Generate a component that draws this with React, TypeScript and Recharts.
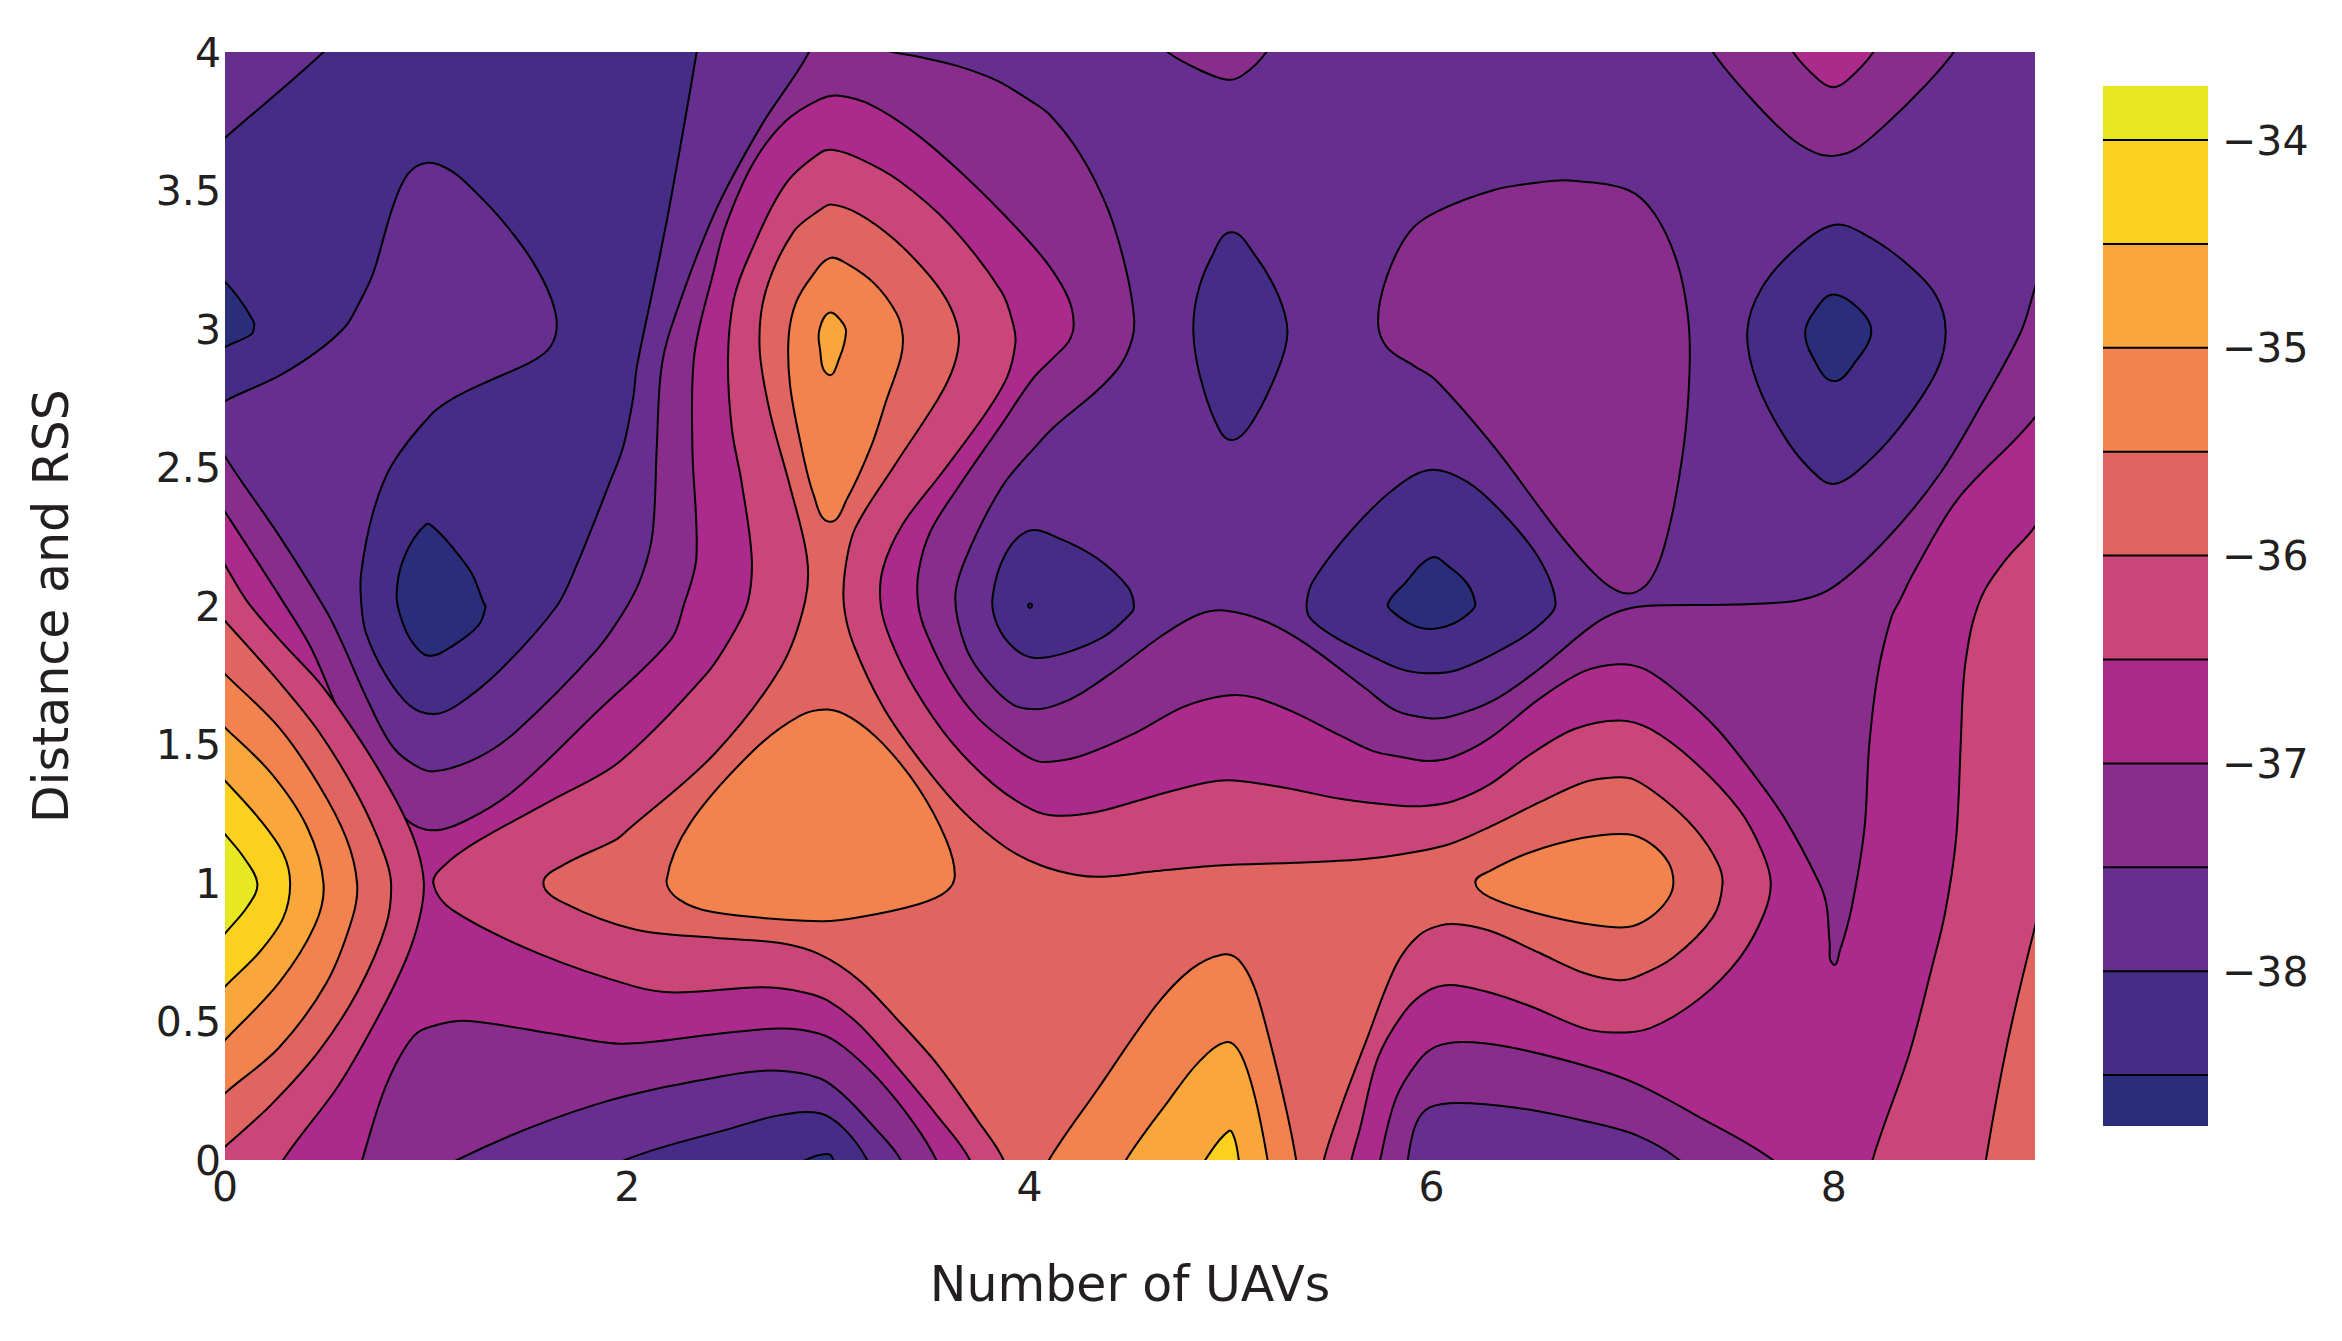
import { ComposedChart, Scatter, XAxis, YAxis, Label, ReferenceArea, ReferenceLine } from "recharts";

type Pair = [number, number];

// band colours, lowest level first
const bandColors = ["#2a2d7a", "#452d87", "#662f8f", "#892d8c", "#ac2a8b", "#ca4678", "#e0645f", "#f2834f", "#f9a73a", "#fbd01f", "#e8e822"];
const levels = [-38.5, -38, -37.5, -37, -36.5, -36, -35.5, -35, -34.5, -34];
const barBottom = -38.745;
const barTop = -33.74;
const barTicks = [-38, -37, -36, -35, -34];
const xTicks = [0, 2, 4, 6, 8];
const yTicks = [0, 0.5, 1, 1.5, 2, 2.5, 3, 3.5, 4];

// contour outlines, in data units
const background: Pair[] = [[-1, -1], [10, -1], [10, 5], [-1, 5]];

const lowTopLeft: Pair[] = [[-0.2, 2.65], [-0.2, 3.56], [0, 3.69], [0.49, 4], [0.75, 4.2], [2.38, 4.2], [2.345, 4], [2.21, 3.442], [2.137, 3.175], [2.049, 2.868], [2.029, 2.748], [1.98, 2.575], [1.91, 2.44], [1.75, 2.15], [1.65, 2.0], [1.37, 1.77], [1.15, 1.64], [1.035, 1.61], [0.92, 1.64], [0.8, 1.75], [0.7, 1.905], [0.677, 2.015], [0.677, 2.12], [0.735, 2.335], [0.83, 2.51], [1.03, 2.695], [1.147, 2.755], [1.32, 2.815], [1.52, 2.88], [1.617, 2.935], [1.65, 3.015], [1.617, 3.12], [1.52, 3.255], [1.38, 3.39], [1.245, 3.495], [1.127, 3.57], [1.01, 3.6], [0.91, 3.56], [0.834, 3.44], [0.736, 3.2], [0.657, 3.08], [0.6, 3.01], [0.46, 2.92], [0.266, 2.83], [0, 2.74]];
const lowestEdge: Pair[] = [[-0.2, 3.3], [0, 3.17], [0.07, 3.11], [0.14, 3.03], [0.145, 3.01], [0.13, 2.98], [0, 2.935], [-0.2, 2.85]];
const lowestOne: Pair[] = [[1, 2.295], [0.89, 2.175], [0.853, 2.04], [0.88, 1.946], [0.937, 1.864], [1.016, 1.82], [1.134, 1.857], [1.26, 1.93], [1.295, 1.995], [1.284, 2.015], [1.225, 2.12], [1.127, 2.215], [1.05, 2.275]];
const lowFive: Pair[] = [[5.001, 3.349], [4.903, 3.256], [4.834, 3.122], [4.815, 2.989], [4.844, 2.842], [4.923, 2.668], [5.001, 2.599], [5.1, 2.655], [5.237, 2.855], [5.283, 2.989], [5.237, 3.122], [5.119, 3.269]];
const lowEight: Pair[] = [[8.004, 3.376], [7.82, 3.296], [7.642, 3.149], [7.569, 2.989], [7.62, 2.802], [7.775, 2.588], [7.93, 2.461], [8.004, 2.441], [8.108, 2.481], [8.308, 2.628], [8.507, 2.842], [8.556, 2.989], [8.507, 3.122], [8.352, 3.242], [8.152, 3.342]];
const lowestEight: Pair[] = [[7.997, 3.125], [7.908, 3.069], [7.857, 2.989], [7.897, 2.895], [7.997, 2.812], [8.108, 2.882], [8.186, 2.989], [8.13, 3.069]];
const lowFour: Pair[] = [[3.999, 2.272], [3.881, 2.188], [3.816, 2.028], [3.841, 1.93], [3.92, 1.85], [4.018, 1.813], [4.176, 1.83], [4.372, 1.89], [4.5, 1.97], [4.52, 2.0], [4.49, 2.068], [4.333, 2.174], [4.136, 2.248]];
const lowestDot: Pair[] = [[4.003, 2.009], [3.993, 2.001], [4.003, 1.993], [4.013, 2.001]];
const lowSix: Pair[] = [[5.999, 2.492], [5.822, 2.428], [5.611, 2.281], [5.414, 2.095], [5.379, 2.014], [5.395, 1.957], [5.513, 1.89], [5.69, 1.823], [5.843, 1.773], [5.977, 1.757], [6.132, 1.77], [6.399, 1.863], [6.554, 1.943], [6.616, 2.012], [6.532, 2.174], [6.354, 2.335], [6.177, 2.448]];
const lowestSix: Pair[] = [[5.999, 2.175], [5.866, 2.081], [5.782, 2.008], [5.81, 1.977], [5.91, 1.93], [5.999, 1.917], [6.11, 1.937], [6.199, 1.983], [6.217, 2.01], [6.177, 2.081], [6.088, 2.141]];

const midMain: Pair[] = [[2.904, 4], [2.668, 3.736], [2.432, 3.415], [2.216, 3], [2.167, 2.842], [2.147, 2.575], [2.127, 2.268], [2.078, 2.12], [2.0, 2.0], [1.842, 1.836], [1.449, 1.548], [1.252, 1.451], [1.036, 1.403], [0.918, 1.437], [0.82, 1.506], [0.702, 1.671], [0.584, 1.864], [0.505, 1.98], [0.269, 2.254], [0, 2.54], [-0.2, 2.8], [-0.6, 2.4], [-0.6, -0.6], [9.6, -0.6], [9.6, 3.0], [9.2, 3.6], [9, 3.149], [8.93, 2.99], [8.75, 2.748], [8.53, 2.48], [8.26, 2.24], [7.997, 2.068], [7.82, 2.02], [7.5, 2.005], [7.065, 2.0], [6.93, 1.98], [6.8, 1.93], [6.53, 1.77], [6.31, 1.66], [6.09, 1.6], [5.977, 1.596], [5.82, 1.623], [5.67, 1.703], [5.375, 1.863], [5.178, 1.943], [4.98, 1.983], [4.844, 1.97], [4.667, 1.897], [4.431, 1.77], [4.254, 1.683], [4.136, 1.643], [4.038, 1.627], [3.92, 1.643], [3.782, 1.737], [3.684, 1.85], [3.631, 2.03], [3.684, 2.174], [3.861, 2.428], [4.038, 2.582], [4.136, 2.655], [4.333, 2.775], [4.451, 2.868], [4.51, 2.962], [4.52, 3.042], [4.48, 3.215], [4.392, 3.429], [4.254, 3.629], [4.097, 3.776], [3.979, 3.836], [3.841, 3.896], [3.645, 3.949], [3.448, 3.983], [3.32, 4], [3.1, 4.05], [3.0, 4.2]];
const midLobeFive: Pair[] = [[4.55, 4.1], [4.687, 4], [4.844, 3.936], [4.982, 3.9], [5.06, 3.916], [5.178, 4], [5.3, 4.17], [5, 4.4]];
const midLobeEight: Pair[] = [[7.25, 4.2], [7.398, 4], [7.575, 3.843], [7.775, 3.696], [7.908, 3.636], [7.997, 3.625], [8.108, 3.649], [8.263, 3.742], [8.441, 3.869], [8.596, 4], [8.75, 4.2], [8, 4.5]];
const midIsland: Pair[] = [[6.687, 3.536], [6.976, 3.502], [7.109, 3.415], [7.22, 3.242], [7.275, 3.042], [7.282, 2.842], [7.253, 2.575], [7.176, 2.268], [7.087, 2.094], [6.976, 2.045], [6.843, 2.094], [6.643, 2.254], [6.31, 2.575], [6.021, 2.815], [5.91, 2.868], [5.777, 2.935], [5.733, 3.028], [5.777, 3.189], [5.888, 3.349], [6.021, 3.422], [6.31, 3.502], [6.532, 3.529]];

const warmMain: Pair[] = [[-0.2, 2.56], [0, 2.34], [0.289, 2.015], [0.427, 1.85], [0.584, 1.589], [0.721, 1.396], [0.898, 1.231], [1.036, 1.19], [1.213, 1.231], [1.449, 1.341], [1.842, 1.613], [2.216, 1.878], [2.28, 2.0], [2.344, 2.175], [2.324, 2.575], [2.334, 2.908], [2.432, 3.215], [2.491, 3.376], [2.629, 3.602], [2.786, 3.749], [2.957, 3.829], [3.055, 3.842], [3.212, 3.809], [3.428, 3.709], [3.684, 3.549], [3.94, 3.362], [4.097, 3.229], [4.195, 3.108], [4.22, 3.015], [4.195, 2.955], [4.117, 2.895], [4.018, 2.822], [3.861, 2.655], [3.645, 2.428], [3.507, 2.268], [3.448, 2.121], [3.448, 2.0], [3.487, 1.903], [3.605, 1.73], [3.743, 1.596], [3.92, 1.49], [4.038, 1.44], [4.136, 1.44], [4.274, 1.463], [4.53, 1.543], [4.766, 1.636], [4.982, 1.677], [5.119, 1.67], [5.316, 1.616], [5.552, 1.53], [5.709, 1.476], [5.844, 1.456], [5.977, 1.44], [6.11, 1.456], [6.288, 1.523], [6.532, 1.663], [6.754, 1.763], [6.931, 1.79], [7.065, 1.77], [7.242, 1.677], [7.42, 1.556], [7.597, 1.396], [7.753, 1.236], [7.93, 0.996], [7.964, 0.916], [7.979, 0.783], [7.997, 0.706], [8.03, 0.756], [8.086, 0.903], [8.152, 1.196], [8.175, 1.49], [8.219, 1.757], [8.285, 1.957], [8.33, 2.023], [8.397, 2.121], [8.618, 2.388], [9, 2.682], [9.2, 2.94], [9.6, 2.9], [9.6, -0.6], [-0.6, -0.6], [-0.6, 2.2]];
const warmLobeEight: Pair[] = [[7.7, 4.15], [7.797, 4], [7.93, 3.896], [7.997, 3.873], [8.064, 3.896], [8.197, 4], [8.3, 4.15], [8, 4.4]];

const coolBottomThree: Pair[] = [[0.6, -0.2], [0.682, 0], [0.8, 0.268], [0.938, 0.447], [1.056, 0.488], [1.213, 0.502], [1.646, 0.454], [1.98, 0.42], [2.432, 0.454], [2.76, 0.475], [2.957, 0.456], [3.075, 0.409], [3.252, 0.289], [3.43, 0.128], [3.537, 0], [3.65, -0.2]];
const coolerBottomThree: Pair[] = [[1, -0.1], [1.154, 0], [1.842, 0.2], [2.53, 0.31], [2.76, 0.322], [2.957, 0.295], [3.075, 0.235], [3.232, 0.115], [3.36, 0], [3.45, -0.2]];
const coldBottomThree: Pair[] = [[1.8, -0.1], [1.99, 0], [2.53, 0.117], [2.76, 0.162], [2.957, 0.169], [3.075, 0.115], [3.193, 0], [3.3, -0.2]];
const coldestBottomThree: Pair[] = [[2.8, -0.05], [2.888, 0], [2.996, 0.022], [3.025, 0], [3.05, -0.1]];
const coolBottomSix: Pair[] = [[5.7, -0.2], [5.744, 0], [5.822, 0.222], [5.933, 0.356], [6.021, 0.409], [6.155, 0.426], [6.377, 0.409], [6.754, 0.342], [7.02, 0.275], [7.331, 0.155], [7.697, 0], [7.9, -0.15]];
const coolerBottomSix: Pair[] = [[5.85, -0.2], [5.881, 0], [5.921, 0.129], [5.988, 0.189], [6.132, 0.206], [6.421, 0.189], [6.754, 0.142], [7.02, 0.089], [7.231, 0], [7.35, -0.1]];

const pinkLeft: Pair[] = [[-0.15, 2.33], [0, 2.148], [0.112, 2.015], [0.289, 1.864], [0.466, 1.726], [0.604, 1.589], [0.741, 1.437], [0.879, 1.259], [0.957, 1.121], [0.989, 0.997], [0.967, 0.873], [0.899, 0.722], [0.761, 0.516], [0.564, 0.268], [0.289, 0], [0.1, -0.25], [-0.5, -0.25], [-0.5, 2.4]];
const pinkCentre: Pair[] = [[1.036, 1], [1.095, 1.066], [1.252, 1.149], [1.646, 1.307], [1.96, 1.437], [2.393, 1.754], [2.53, 1.905], [2.6, 2.015], [2.619, 2.175], [2.57, 2.441], [2.52, 2.641], [2.501, 2.895], [2.53, 3.108], [2.609, 3.269], [2.786, 3.522], [2.959, 3.636], [3.025, 3.646], [3.153, 3.616], [3.35, 3.536], [3.605, 3.375], [3.861, 3.135], [3.92, 3.015], [3.93, 2.948], [3.89, 2.828], [3.782, 2.695], [3.566, 2.482], [3.37, 2.295], [3.271, 2.134], [3.261, 2.0], [3.31, 1.877], [3.428, 1.703], [3.605, 1.516], [3.822, 1.356], [4.018, 1.263], [4.136, 1.243], [4.333, 1.256], [4.628, 1.316], [4.883, 1.363], [5.021, 1.37], [5.277, 1.343], [5.552, 1.303], [5.843, 1.279], [5.977, 1.279], [6.11, 1.296], [6.288, 1.356], [6.488, 1.463], [6.71, 1.556], [6.931, 1.587], [7.087, 1.556], [7.309, 1.436], [7.531, 1.263], [7.642, 1.116], [7.686, 1.003], [7.653, 0.889], [7.531, 0.729], [7.331, 0.582], [7.087, 0.476], [6.909, 0.46], [6.754, 0.476], [6.488, 0.556], [6.266, 0.609], [6.088, 0.632], [5.977, 0.609], [5.866, 0.536], [5.733, 0.369], [5.644, 0.115], [5.601, 0], [5.55, -0.2], [3.8, -0.2], [3.704, 0], [3.547, 0.155], [3.35, 0.329], [3.153, 0.489], [2.996, 0.576], [2.88, 0.605], [2.76, 0.62], [2.629, 0.623], [2.235, 0.605], [2.039, 0.626], [1.567, 0.743], [1.134, 0.901]];
const pinkRight: Pair[] = [[9.2, 2.55], [9, 2.288], [8.863, 2.175], [8.752, 2.06], [8.69, 1.94], [8.655, 1.8], [8.641, 1.69], [8.63, 1.49], [8.607, 1.156], [8.552, 0.889], [8.485, 0.689], [8.374, 0.382], [8.192, 0], [8.1, -0.3], [9.6, -0.5], [9.6, 2.5]];

const coralLeft: Pair[] = [[-0.2, 2.11], [0, 1.946], [0.269, 1.726], [0.466, 1.547], [0.662, 1.314], [0.79, 1.107], [0.826, 0.997], [0.8, 0.846], [0.662, 0.612], [0.466, 0.392], [0.23, 0.2], [0, 0.048], [-0.2, -0.084], [-0.5, -0.1], [-0.5, 2.2]];
const coralCentre: Pair[] = [[1.583, 1], [1.685, 1.066], [1.94, 1.155], [2.0, 1.19], [2.432, 1.465], [2.766, 1.781], [2.884, 2.015], [2.894, 2.175], [2.806, 2.441], [2.707, 2.708], [2.658, 2.935], [2.688, 3.135], [2.825, 3.349], [2.957, 3.429], [3.016, 3.449], [3.153, 3.415], [3.33, 3.322], [3.507, 3.189], [3.605, 3.082], [3.649, 2.975], [3.625, 2.868], [3.546, 2.748], [3.33, 2.508], [3.134, 2.281], [3.084, 2.134], [3.078, 2.0], [3.124, 1.863], [3.271, 1.637], [3.448, 1.45], [3.664, 1.263], [3.881, 1.129], [4.058, 1.063], [4.235, 1.029], [4.372, 1.023], [4.628, 1.043], [4.942, 1.063], [5.316, 1.073], [5.644, 1.085], [5.844, 1.103], [6.088, 1.14], [6.31, 1.21], [6.532, 1.29], [6.754, 1.363], [6.887, 1.38], [6.998, 1.376], [7.153, 1.303], [7.309, 1.196], [7.42, 1.076], [7.446, 0.996], [7.398, 0.876], [7.198, 0.729], [7.02, 0.662], [6.931, 0.649], [6.754, 0.676], [6.532, 0.749], [6.31, 0.822], [6.155, 0.849], [6.044, 0.847], [5.933, 0.809], [5.822, 0.702], [5.67, 0.422], [5.552, 0.195], [5.464, 0], [5.42, -0.2], [3.95, -0.2], [3.871, 0], [3.743, 0.142], [3.546, 0.342], [3.35, 0.502], [3.153, 0.649], [2.957, 0.742], [2.76, 0.783], [2.432, 0.802], [2.039, 0.832], [1.685, 0.928]];
const coralRight: Pair[] = [[9.1, 1.1], [9, 0.842], [8.863, 0.422], [8.756, 0], [8.7, -0.3], [9.6, -0.3], [9.6, 1.2]];

const orangeLeft: Pair[] = [[-0.2, 1.9], [0, 1.754], [0.269, 1.561], [0.466, 1.355], [0.603, 1.162], [0.657, 0.997], [0.633, 0.873], [0.505, 0.64], [0.269, 0.406], [0, 0.241], [-0.2, 0.1], [-0.5, 0.1], [-0.5, 1.9]];
const orangeThreeHigh: Pair[] = [[3.006, 3.256], [2.917, 3.189], [2.839, 3.095], [2.803, 2.975], [2.809, 2.802], [2.858, 2.602], [2.927, 2.401], [3.006, 2.304], [3.094, 2.388], [3.212, 2.575], [3.291, 2.748], [3.36, 2.895], [3.37, 2.975], [3.34, 3.055], [3.232, 3.162], [3.094, 3.235]];
const orangeThreeLow: Pair[] = [[2.996, 1.626], [2.858, 1.603], [2.629, 1.479], [2.314, 1.217], [2.196, 1.011], [2.255, 0.942], [2.432, 0.894], [2.959, 0.862], [3.153, 0.876], [3.448, 0.923], [3.586, 0.969], [3.629, 1.029], [3.586, 1.156], [3.448, 1.343], [3.271, 1.503], [3.114, 1.596]];
const orangeSeven: Pair[] = [[6.976, 1.176], [6.754, 1.163], [6.488, 1.11], [6.288, 1.043], [6.217, 1.003], [6.288, 0.949], [6.532, 0.889], [6.798, 0.849], [6.976, 0.841], [7.087, 0.876], [7.176, 0.943], [7.202, 1.003], [7.176, 1.076], [7.087, 1.143]];
const orangeFive: Pair[] = [[3.98, -0.18], [4.097, 0], [4.333, 0.249], [4.628, 0.556], [4.805, 0.689], [4.962, 0.742], [5.041, 0.722], [5.119, 0.622], [5.198, 0.422], [5.277, 0.182], [5.326, 0], [5.36, -0.2]];

const amberLeft: Pair[] = [[-0.2, 1.7], [0, 1.561], [0.23, 1.396], [0.407, 1.204], [0.49, 0.997], [0.446, 0.846], [0.269, 0.64], [0, 0.433], [-0.2, 0.28], [-0.5, 0.3], [-0.5, 1.7]];
const amberThree: Pair[] = [[3.006, 3.059], [2.957, 3.002], [2.957, 2.935], [3.0, 2.835], [3.055, 2.895], [3.088, 2.989], [3.065, 3.028]];
const amberFive: Pair[] = [[4.37, -0.16], [4.48, 0], [4.687, 0.209], [4.844, 0.355], [4.982, 0.426], [5.051, 0.382], [5.119, 0.235], [5.184, 0], [5.22, -0.2]];

const goldLeft: Pair[] = [[-0.2, 1.52], [0, 1.369], [0.171, 1.231], [0.289, 1.107], [0.324, 0.997], [0.289, 0.873], [0.171, 0.75], [0, 0.626], [-0.2, 0.47], [-0.5, 0.5], [-0.5, 1.5]];
const goldFive: Pair[] = [[4.8, -0.1], [4.874, 0], [4.992, 0.105], [5.021, 0.075], [5.041, 0], [5.06, -0.1]];
const yellowLeft: Pair[] = [[-0.2, 1.35], [0, 1.176], [0.092, 1.094], [0.161, 0.997], [0.112, 0.915], [0, 0.818], [-0.2, 0.65], [-0.5, 0.7], [-0.5, 1.3]];

// painted in order, each one over the ones before it
const layers: [number, Pair[]][] = [
  [2, background],
  [1, lowTopLeft], [0, lowestEdge], [0, lowestOne], [1, lowFive], [1, lowEight], [0, lowestEight],
  [1, lowFour], [0, lowestDot], [1, lowSix], [0, lowestSix],
  [3, midMain], [3, midLobeFive], [3, midLobeEight], [3, midIsland],
  [4, warmMain], [4, warmLobeEight],
  [3, coolBottomThree], [2, coolerBottomThree], [1, coldBottomThree], [0, coldestBottomThree],
  [3, coolBottomSix], [2, coolerBottomSix],
  [5, pinkLeft], [5, pinkCentre], [5, pinkRight],
  [6, coralLeft], [6, coralCentre], [6, coralRight],
  [7, orangeLeft], [7, orangeThreeHigh], [7, orangeThreeLow], [7, orangeSeven], [7, orangeFive],
  [8, amberLeft], [8, amberThree], [8, amberFive],
  [9, goldLeft], [9, goldFive],
  [10, yellowLeft],
];

const barExtent = [{ x: 0, y: barBottom }, { x: 1, y: barTop }];

const textColor = "#231f20";
const fontFamily = "'DejaVu Sans', sans-serif";

// closed smooth outline through the scaled points
function smoothClosed(points: { x: number; y: number }[]) {
  const n = points.length;
  const tangent = (i: number) => {
    const a = points[(i - 1 + n) % n];
    const b = points[(i + 1) % n];
    const dx = b.x - a.x;
    const dy = b.y - a.y;
    const len = Math.hypot(dx, dy) || 1;
    return { x: dx / len, y: dy / len };
  };
  let d = `M${points[0].x},${points[0].y}`;
  for (let i = 0; i < n; i++) {
    const p = points[i];
    const q = points[(i + 1) % n];
    const len = Math.hypot(q.x - p.x, q.y - p.y) / 3;
    const t0 = tangent(i);
    const t1 = tangent((i + 1) % n);
    d += `C${p.x + t0.x * len},${p.y + t0.y * len} ${q.x - t1.x * len},${q.y - t1.y * len} ${q.x},${q.y}`;
  }
  return d + "Z";
}

function ContourOutline(props: any) {
  return <path d={smoothClosed(props.points)} fill={props.stroke} stroke="#000" strokeWidth={2} />;
}

function NoDot() {
  return null;
}

export default function App() {
  const tickStyle = { fontSize: 41, fill: textColor, fontFamily };
  return (
    <div style={{ position: "relative", width: 2342, height: 1341, margin: -8, background: "#fff" }}>
      <div style={{ position: "absolute", left: 0, top: 0 }}>
        <ComposedChart width={2342} height={1341} margin={{ top: 52, right: 307, bottom: 0, left: 0 }}>
          <XAxis
            type="number"
            dataKey="x"
            domain={[0, 9]}
            ticks={xTicks}
            interval={0}
            allowDataOverflow
            height={181}
            axisLine={false}
            tickLine={false}
            tick={tickStyle}
            tickSize={0}
            tickMargin={12}
          >
            <Label value="Number of UAVs" position="insideBottom" offset={40} style={{ fontSize: 49, fill: textColor, fontFamily }} />
          </XAxis>
          <YAxis
            type="number"
            dataKey="y"
            domain={[0, 4]}
            ticks={yTicks}
            interval={0}
            allowDataOverflow
            width={225}
            axisLine={false}
            tickLine={false}
            tick={tickStyle}
            tickSize={0}
            tickMargin={4}
          >
            <Label value="Distance and RSS" angle={-90} position="insideLeft" offset={51} style={{ fontSize: 49, fill: textColor, fontFamily, textAnchor: "middle" }} />
          </YAxis>
          {layers.map(([colorIndex, outline], i) => (
            <Scatter
              key={i}
              data={outline.map(([x, y]) => ({ x, y }))}
              fill={bandColors[colorIndex]}
              line={ContourOutline}
              lineType="joint"
              shape={NoDot}
              legendType="none"
              isAnimationActive={false}
            />
          ))}
        </ComposedChart>
      </div>
      <div style={{ position: "absolute", left: 2103, top: 86 }}>
        <ComposedChart width={239} height={1040} margin={{ top: 0, right: 0, bottom: 0, left: 0 }}>
          <XAxis type="number" dataKey="x" domain={[0, 1]} hide />
          <YAxis
            type="number"
            dataKey="y"
            orientation="right"
            domain={[barBottom, barTop]}
            ticks={barTicks}
            interval={0}
            width={134}
            axisLine={false}
            tickLine={false}
            tick={tickStyle}
            tickSize={0}
            tickMargin={14}
            tickFormatter={(v: number) => `\u2212${Math.abs(v)}`}
          />
          <Scatter data={barExtent} shape={NoDot} legendType="none" isAnimationActive={false} />
          {bandColors.map((color, i) => (
            <ReferenceArea
              key={color}
              y1={i === 0 ? barBottom : levels[i - 1]}
              y2={i === levels.length ? barTop : levels[i]}
              fill={color}
              fillOpacity={1}
              stroke="none"
            />
          ))}
          {levels.map((level) => (
            <ReferenceLine key={level} y={level} stroke="#000" strokeWidth={2} />
          ))}
        </ComposedChart>
      </div>
    </div>
  );
}
